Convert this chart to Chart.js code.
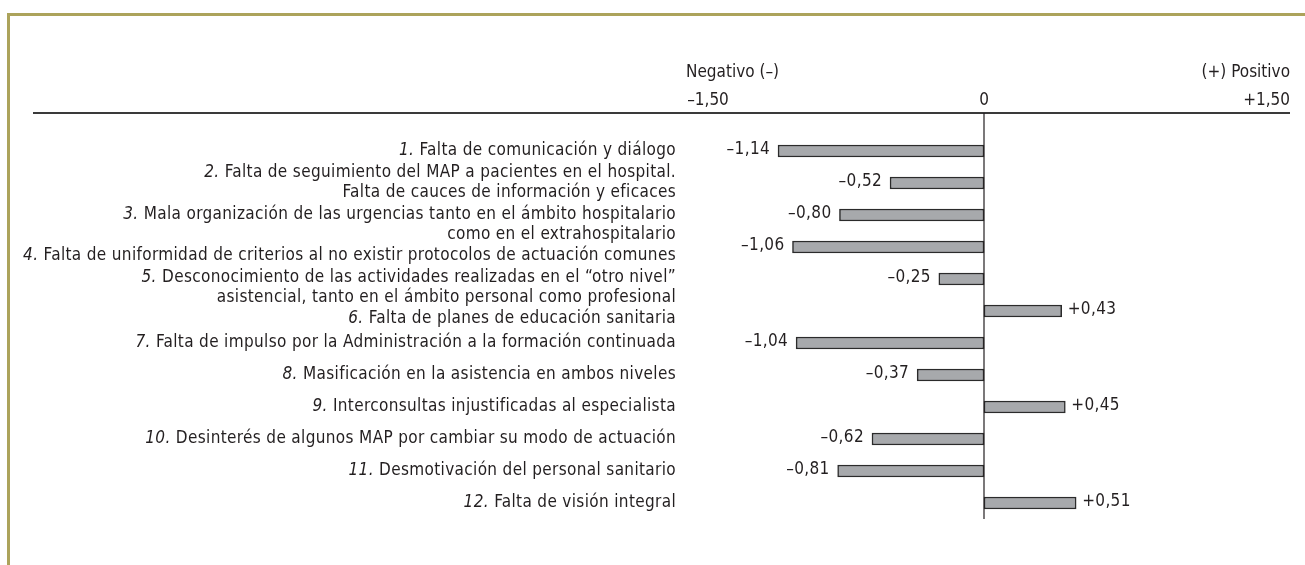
<!DOCTYPE html>
<html>
<head>
<meta charset="utf-8">
<script src="https://cdn.jsdelivr.net/npm/chart.js@4.4.1/dist/chart.umd.min.js"></script>
<style>
html,body{margin:0;padding:0;background:#fff;}
#wrap{position:relative;width:1305px;height:565px;overflow:hidden;}
#frame{position:absolute;left:7px;top:13px;width:1320px;height:600px;border-left:3px solid #aca35b;border-top:3px solid #aca35b;box-sizing:border-box;}
canvas{position:absolute;left:0;top:0;}
</style>
</head>
<body>
<div id="wrap"><div id="frame"></div><canvas id="c" width="1305" height="565"></canvas></div>
<script>
const categoryNumbers = ['1.', '2.', '3.', '4.', '5.', '6.', '7.', '8.', '9.', '10.', '11.', '12.'];
const categoryLines = [
  ['Falta de comunicación y diálogo'],
  ['Falta de seguimiento del MAP a pacientes en el hospital.', 'Falta de cauces de información y eficaces'],
  ['Mala organización de las urgencias tanto en el ámbito hospitalario', 'como en el extrahospitalario'],
  ['Falta de uniformidad de criterios al no existir protocolos de actuación comunes'],
  ['Desconocimiento de las actividades realizadas en el “otro nivel”', 'asistencial, tanto en el ámbito personal como profesional'],
  ['Falta de planes de educación sanitaria'],
  ['Falta de impulso por la Administración a la formación continuada'],
  ['Masificación en la asistencia en ambos niveles'],
  ['Interconsultas injustificadas al especialista'],
  ['Desinterés de algunos MAP por cambiar su modo de actuación'],
  ['Desmotivación del personal sanitario'],
  ['Falta de visión integral']
];
const values = [-1.14, -0.52, -0.80, -1.06, -0.25, 0.43, -1.04, -0.37, 0.45, -0.62, -0.81, 0.51];
const valueLabels = ['–1,14', '–0,52', '–0,80', '–1,06', '–0,25', '+0,43', '–1,04', '–0,37', '+0,45', '–0,62', '–0,81', '+0,51'];
const tickValues = [-1.5, 0, 1.5];
const tickLabels = ['–1,50', '0', '+1,50'];
const axisTitles = ['Negativo (–)', '(+) Positivo'];

const FONT = '"Liberation Sans Narrow", "DejaVu Sans Condensed", "Roboto Condensed", sans-serif';
const FS = 17;
const TXT = '#231f20';

const decor = {
  id: 'decor',
  afterDraw(chart) {
    const ctx = chart.ctx;
    const x = chart.scales.x, y = chart.scales.y;
    const area = chart.chartArea;
    const x0 = x.getPixelForValue(0);
    const headY = 113;
    ctx.save();
    // header rule
    ctx.strokeStyle = '#3a3a3a';
    ctx.lineWidth = 2;
    ctx.beginPath(); ctx.moveTo(33, headY); ctx.lineTo(1290, headY); ctx.stroke();
    // zero line
    ctx.strokeStyle = '#231f20';
    ctx.lineWidth = 1.2;
    ctx.beginPath(); ctx.moveTo(x0, headY); ctx.lineTo(x0, area.bottom); ctx.stroke();
    ctx.fillStyle = TXT;
    ctx.font = FS + 'px ' + FONT;
    ctx.textBaseline = 'middle';
    // top ticks
    tickValues.forEach((v, i) => {
      const px = x.getPixelForValue(v);
      if (i === 0) { ctx.textAlign = 'center'; ctx.fillText(tickLabels[i], px - 5, 101); }
      else if (i === tickValues.length - 1) { ctx.textAlign = 'right'; ctx.fillText(tickLabels[i], px + 35, 101); }
      else { ctx.textAlign = 'center'; ctx.fillText(tickLabels[i], px, 101); }
    });
    ctx.textAlign = 'left';
    ctx.fillText(axisTitles[0], x.getPixelForValue(-1.5) - 27, 73);
    ctx.textAlign = 'right';
    ctx.fillText(axisTitles[1], x.getPixelForValue(1.5) + 35, 73);
    // category labels: centred on their bar, pushed down if they would collide
    const rightX = 676;
    const lh = 20;
    const gap = 21.5;
    let lastY = -Infinity;
    try { ctx.letterSpacing = '0.35px'; } catch (e) {}
    categoryLines.forEach((lines, i) => {
      const cy = y.getPixelForValue(i);
      let top = cy - (lines.length - 1) * lh / 2;
      if (top < lastY + gap) top = lastY + gap;
      lines.forEach((ln, j) => {
        const ly = top + j * lh;
        ctx.textAlign = 'right';
        ctx.font = FS + 'px ' + FONT;
        ctx.fillText(ln, rightX, ly);
        if (j === 0) {
          const w = ctx.measureText(' ' + ln).width;
          ctx.font = 'italic ' + FS + 'px ' + FONT;
          ctx.fillText(categoryNumbers[i], rightX - w, ly);
        }
        lastY = ly;
      });
    });
    // value labels
    ctx.font = FS + 'px ' + FONT;
    const meta = chart.getDatasetMeta(0);
    meta.data.forEach((bar, i) => {
      const v = values[i];
      if (v < 0) { ctx.textAlign = 'right'; ctx.fillText(valueLabels[i], bar.x - 8, bar.y - 1); }
      else { ctx.textAlign = 'left'; ctx.fillText(valueLabels[i], bar.x + 6, bar.y - 1); }
    });
    ctx.restore();
  }
};

new Chart(document.getElementById('c'), {
  type: 'bar',
  data: {
    labels: categoryNumbers,
    datasets: [{
      data: values,
      backgroundColor: '#a7a9ac',
      borderColor: '#2b2b2b',
      borderWidth: 1.5,
      borderSkipped: false,
      barThickness: 12
    }]
  },
  options: {
    indexAxis: 'y',
    responsive: false,
    animation: false,
    layout: { padding: { left: 713, right: 50, top: 135, bottom: 46 } },
    plugins: { legend: { display: false }, tooltip: { enabled: false } },
    scales: {
      x: { display: false, min: -1.5, max: 1.5 },
      y: { display: false }
    }
  },
  plugins: [decor]
});
</script>
</body>
</html>
